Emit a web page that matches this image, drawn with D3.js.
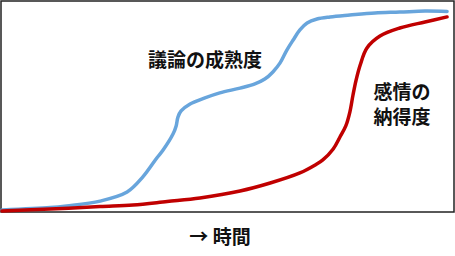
<!DOCTYPE html>
<html>
<head>
	<meta charset="utf-8">
	<title>議論の成熟度と感情の納得度</title>
	<style type="text/css">
		body{ margin: 0; background: #fff; }
		text{ font-family: "Noto Sans CJK JP", sans-serif; fill: #111; }
	</style>
</head>
<body>

	<svg width="455" height="256" class="chart"></svg>

	<script type="text/javascript" src="https://cdn.jsdelivr.net/npm/d3@7/dist/d3.min.js"></script>

	<script type="text/javascript">

		// 議論の成熟度 (blue)
		var blueX = [0, 10.7, 14.4, 21.8, 27.8, 31.3, 34.4, 35.8, 38.0, 38.7, 39.1, 39.8, 41.8, 45.1, 48.4, 52.9,
			56.2, 58.4, 60.2, 61.8, 63.3, 64.7, 66.2, 67.8, 70.0, 72.9, 77.3, 82.9, 88.4, 94.0, 98.9]
		var blueY = [1.0, 2.1, 2.9, 5.2, 9.5, 16.7, 25.7, 29.5, 37.1, 41.0, 45.2, 48.1, 51.4, 54.3, 56.7, 59.0,
			61.0, 63.3, 66.7, 71.0, 77.1, 81.9, 86.7, 90.0, 91.9, 92.9, 93.8, 94.8, 95.2, 95.7, 95.5]

		// 感情の納得度 (red)
		var redX = [0, 10.7, 21.8, 29.1, 36.7, 44.0, 52.9, 59.6, 66.2, 69.6, 71.3, 73.6, 75.1, 76.4, 77.3,
			78.0, 78.7, 79.6, 81.1, 84.0, 88.4, 94.0, 98.9]
		var redY = [0.5, 1.4, 2.6, 3.3, 5.0, 6.7, 10.0, 13.8, 18.6, 22.4, 24.8, 30.0, 35.7, 41.0, 47.6,
			55.7, 62.9, 70.0, 78.1, 83.8, 87.6, 90.5, 92.9]

		var seriesNames = ['議論の成熟度', '感情の納得度']
		var xLabel = '→ 時間'

		var svg = d3.select('.chart')

		var xScale = d3.scaleLinear().domain([0, 100]).range([2, 452])
		var yScale = d3.scaleLinear().domain([0, 100]).range([212, 2])

		// frame
		svg.append('rect')
			.attr('x', 1).attr('y', 1)
			.attr('width', 453).attr('height', 211)
			.attr('fill', 'none')
			.attr('stroke', '#222')
			.attr('stroke-width', 1.5)

		var line = d3.line()
			.x(function(d){ return xScale(d[0]) })
			.y(function(d){ return yScale(d[1]) })
			.curve(d3.curveCatmullRom.alpha(0.5))

		var blue = d3.zip(blueX, blueY)
		var red = d3.zip(redX, redY)

		svg.append('path')
			.attr('d', line(blue))
			.attr('fill', 'none')
			.attr('stroke', '#68a5dc')
			.attr('stroke-width', 3.5)
			.attr('stroke-linecap', 'round')

		svg.append('path')
			.attr('d', line(red))
			.attr('fill', 'none')
			.attr('stroke', '#c00000')
			.attr('stroke-width', 3.5)
			.attr('stroke-linecap', 'round')

		// labels
		svg.append('text')
			.attr('x', 205).attr('y', 58)
			.attr('text-anchor', 'middle')
			.attr('dominant-baseline', 'central')
			.attr('font-size', 19)
			.attr('font-weight', 'bold')
			.text(seriesNames[0])

		var red_label = svg.append('text')
			.attr('text-anchor', 'middle')
			.attr('font-size', 19)
			.attr('font-weight', 'bold')
		red_label.append('tspan')
			.attr('x', 402).attr('y', 90)
			.attr('dominant-baseline', 'central')
			.text(seriesNames[1].slice(0, 3))
		red_label.append('tspan')
			.attr('x', 402).attr('y', 115)
			.attr('dominant-baseline', 'central')
			.text(seriesNames[1].slice(3))

		svg.append('text')
			.attr('x', 220).attr('y', 235)
			.attr('text-anchor', 'middle')
			.attr('dominant-baseline', 'central')
			.attr('font-size', 19)
			.attr('font-weight', 'bold')
			.text(xLabel)

	</script>

</body>
</html>
